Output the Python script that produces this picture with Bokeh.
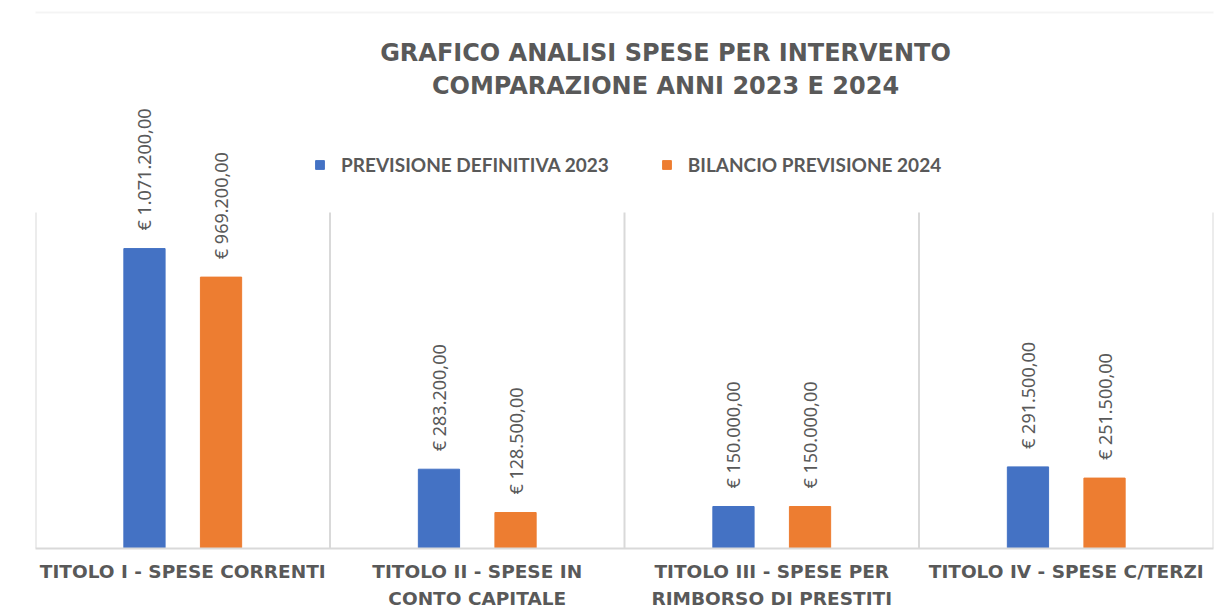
import math
from bokeh.plotting import figure
from bokeh.models import (ColumnDataSource, FactorRange, Range1d, Legend, LegendItem,
                          LabelSet, Label, BoxAnnotation)
from bokeh.core.properties import value
from bokeh.transform import dodge
from bokeh.embed import file_html
from bokeh.resources import INLINE

# ---- data ----
categories = ["TITOLO I - SPESE CORRENTI",
              "TITOLO II - SPESE IN\nCONTO CAPITALE",
              "TITOLO III - SPESE PER\nRIMBORSO DI PRESTITI",
              "TITOLO IV - SPESE C/TERZI"]
prev_2023 = [1071200, 283200, 150000, 291500]
bil_2024 = [969200, 128500, 150000, 251500]
series_names = ["PREVISIONE DEFINITIVA 2023", "BILANCIO PREVISIONE 2024"]
title_lines = ["GRAFICO ANALISI SPESE PER INTERVENTO", "COMPARAZIONE ANNI 2023 E 2024"]
axis_max = 1200000

BLUE = "#4472C4"
ORANGE = "#ED7D31"
GRAY = "#595959"
GRID = "#D9D9D9"

PLOT_H = 336      # pixel height of the value area (0 .. axis_max)
FRAME_H = 548     # frame extended upwards to hold title, legend and labels


def eur(v):
    s = f"{v:,.2f}".replace(",", "X").replace(".", ",").replace("X", ".")
    return "€ " + s


src = ColumnDataSource(dict(
    cat=categories,
    v23=prev_2023,
    v24=bil_2024,
    t23=[eur(v) for v in prev_2023],
    t24=[eur(v) for v in bil_2024],
))

p = figure(frame_width=1178, frame_height=FRAME_H, output_backend="svg", toolbar_location=None,
           x_range=FactorRange(*categories, range_padding=0),
           y_range=Range1d(0, axis_max * FRAME_H / PLOT_H),
           min_border_left=35, min_border_right=13, min_border_top=0, min_border_bottom=66,
           y_axis_location=None)
p.outline_line_color = None
p.xgrid.visible = False
p.ygrid.visible = False
p.background_fill_color = "white"
p.border_fill_color = "white"

# chart-area border (top and left edges of the outer chart box)
try:
    p.add_layout(BoxAnnotation(left=9, top=12, right=3000, bottom=3000,
                               left_units="canvas", right_units="canvas",
                               top_units="canvas", bottom_units="canvas",
                               fill_alpha=0, line_color=GRID, line_width=2))
except Exception:
    pass

# category separators (vertical grid lines between categories)
bounds = list(range(len(categories) + 1))
p.segment(x0=bounds, y0=[0] * len(bounds), x1=bounds, y1=[axis_max] * len(bounds),
          line_color=GRID, line_width=2)

r1 = p.vbar(x=dodge("cat", -0.13, range=p.x_range), top="v23", width=0.14, source=src,
            fill_color=BLUE, line_color=BLUE)
r2 = p.vbar(x=dodge("cat", 0.13, range=p.x_range), top="v24", width=0.14, source=src,
            fill_color=ORANGE, line_color=ORANGE)

for tcol, ycol, off in [("t23", "v23", -0.13), ("t24", "v24", 0.13)]:
    p.add_layout(LabelSet(x=dodge("cat", off, range=p.x_range), y=ycol, text=tcol, source=src,
                          angle=math.pi / 2, text_align="left", text_baseline="middle",
                          y_offset=18, text_font=value("Noto Sans"),
                          text_font_size=value("18px"), text_color=GRAY))

ax = p.xaxis[0]
ax.axis_line_color = GRID
ax.axis_line_width = 2
ax.major_tick_line_color = None
ax.minor_tick_line_color = None
ax.major_label_text_font = "DejaVu Sans"
ax.major_label_text_font_style = "bold"
ax.major_label_text_font_size = "18.5px"
ax.major_label_text_color = GRAY
ax.major_label_standoff = 6
ax.major_label_text_line_height = 1.3

legend = Legend(items=[LegendItem(label=series_names[0], renderers=[r1]),
                       LegendItem(label=series_names[1], renderers=[r2])],
                orientation="horizontal", location=(279, 372),
                border_line_color=None, background_fill_alpha=0,
                glyph_width=11, glyph_height=11, label_standoff=16, spacing=52,
                label_text_font="Lato", label_text_font_style="bold",
                label_text_font_size="19px", label_text_color=GRAY)
p.add_layout(legend, "center")

for line, ypos in [(title_lines[0], 496), (title_lines[1], 463)]:
    p.add_layout(Label(x=630, y=ypos, x_units="screen", y_units="screen", text=line,
                       text_align="center", text_baseline="middle",
                       text_font="DejaVu Sans", text_font_style="bold",
                       text_font_size="24px", text_color=GRAY))

open("out.html", "w").write(file_html(p, INLINE))
